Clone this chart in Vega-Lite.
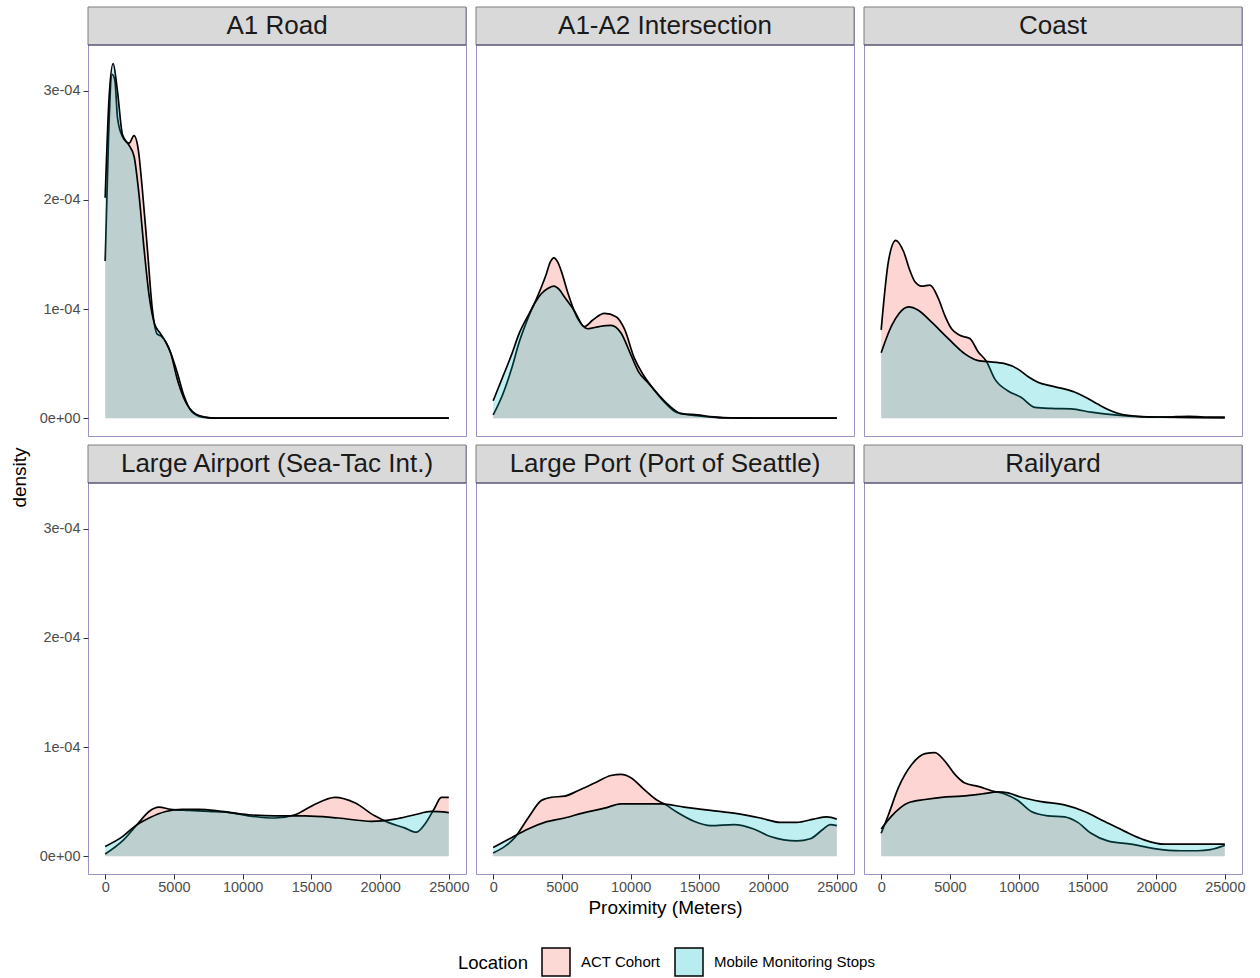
{
  "$schema": "https://vega.github.io/schema/vega-lite/v6.json",
  "background": "white",
  "padding": {"left": 9, "top": 6, "right": 10, "bottom": 0},
  "datasets": {
    "panels": [
      {"panel": "A1 Road"}, {"panel": "A1-A2 Intersection"}, {"panel": "Coast"},
      {"panel": "Large Airport (Sea-Tac Int.)"}, {"panel": "Large Port (Port of Seattle)"}, {"panel": "Railyard"}
    ],
    "curves": [
      {"panel": "A1 Road", "group": "ACT Cohort", "x": 0, "density": 1.44e-4},
      {"panel": "A1 Road", "group": "ACT Cohort", "x": 250, "density": 2.6e-4},
      {"panel": "A1 Road", "group": "ACT Cohort", "x": 500, "density": 3.15e-4},
      {"panel": "A1 Road", "group": "ACT Cohort", "x": 700, "density": 3.1e-4},
      {"panel": "A1 Road", "group": "ACT Cohort", "x": 900, "density": 2.75e-4},
      {"panel": "A1 Road", "group": "ACT Cohort", "x": 1256, "density": 2.58e-4},
      {"panel": "A1 Road", "group": "ACT Cohort", "x": 1740, "density": 2.52e-4},
      {"panel": "A1 Road", "group": "ACT Cohort", "x": 2100, "density": 2.59e-4},
      {"panel": "A1 Road", "group": "ACT Cohort", "x": 2420, "density": 2.45e-4},
      {"panel": "A1 Road", "group": "ACT Cohort", "x": 2700, "density": 2.1e-4},
      {"panel": "A1 Road", "group": "ACT Cohort", "x": 3070, "density": 1.55e-4},
      {"panel": "A1 Road", "group": "ACT Cohort", "x": 3430, "density": 1.0e-4},
      {"panel": "A1 Road", "group": "ACT Cohort", "x": 3790, "density": 0.77e-4},
      {"panel": "A1 Road", "group": "ACT Cohort", "x": 4100, "density": 0.75e-4},
      {"panel": "A1 Road", "group": "ACT Cohort", "x": 4400, "density": 0.7e-4},
      {"panel": "A1 Road", "group": "ACT Cohort", "x": 4760, "density": 0.6e-4},
      {"panel": "A1 Road", "group": "ACT Cohort", "x": 5240, "density": 0.42e-4},
      {"panel": "A1 Road", "group": "ACT Cohort", "x": 5720, "density": 0.21e-4},
      {"panel": "A1 Road", "group": "ACT Cohort", "x": 6330, "density": 0.055e-4},
      {"panel": "A1 Road", "group": "ACT Cohort", "x": 7050, "density": 0.01e-4},
      {"panel": "A1 Road", "group": "ACT Cohort", "x": 8000, "density": 0},
      {"panel": "A1 Road", "group": "ACT Cohort", "x": 12000, "density": 0},
      {"panel": "A1 Road", "group": "ACT Cohort", "x": 16000, "density": 0},
      {"panel": "A1 Road", "group": "ACT Cohort", "x": 20000, "density": 0},
      {"panel": "A1 Road", "group": "ACT Cohort", "x": 25000, "density": 0},

      {"panel": "A1 Road", "group": "Mobile Monitoring Stops", "x": 0, "density": 2.02e-4},
      {"panel": "A1 Road", "group": "Mobile Monitoring Stops", "x": 290, "density": 2.95e-4},
      {"panel": "A1 Road", "group": "Mobile Monitoring Stops", "x": 580, "density": 3.25e-4},
      {"panel": "A1 Road", "group": "Mobile Monitoring Stops", "x": 890, "density": 3.0e-4},
      {"panel": "A1 Road", "group": "Mobile Monitoring Stops", "x": 1256, "density": 2.6e-4},
      {"panel": "A1 Road", "group": "Mobile Monitoring Stops", "x": 1740, "density": 2.5e-4},
      {"panel": "A1 Road", "group": "Mobile Monitoring Stops", "x": 2100, "density": 2.4e-4},
      {"panel": "A1 Road", "group": "Mobile Monitoring Stops", "x": 2460, "density": 2.05e-4},
      {"panel": "A1 Road", "group": "Mobile Monitoring Stops", "x": 2830, "density": 1.55e-4},
      {"panel": "A1 Road", "group": "Mobile Monitoring Stops", "x": 3200, "density": 1.12e-4},
      {"panel": "A1 Road", "group": "Mobile Monitoring Stops", "x": 3600, "density": 0.86e-4},
      {"panel": "A1 Road", "group": "Mobile Monitoring Stops", "x": 4000, "density": 0.78e-4},
      {"panel": "A1 Road", "group": "Mobile Monitoring Stops", "x": 4400, "density": 0.7e-4},
      {"panel": "A1 Road", "group": "Mobile Monitoring Stops", "x": 4760, "density": 0.6e-4},
      {"panel": "A1 Road", "group": "Mobile Monitoring Stops", "x": 5240, "density": 0.36e-4},
      {"panel": "A1 Road", "group": "Mobile Monitoring Stops", "x": 5850, "density": 0.15e-4},
      {"panel": "A1 Road", "group": "Mobile Monitoring Stops", "x": 6570, "density": 0.04e-4},
      {"panel": "A1 Road", "group": "Mobile Monitoring Stops", "x": 7300, "density": 0.01e-4},
      {"panel": "A1 Road", "group": "Mobile Monitoring Stops", "x": 8000, "density": 0},
      {"panel": "A1 Road", "group": "Mobile Monitoring Stops", "x": 12000, "density": 0},
      {"panel": "A1 Road", "group": "Mobile Monitoring Stops", "x": 16000, "density": 0},
      {"panel": "A1 Road", "group": "Mobile Monitoring Stops", "x": 20000, "density": 0},
      {"panel": "A1 Road", "group": "Mobile Monitoring Stops", "x": 25000, "density": 0},

      {"panel": "A1-A2 Intersection", "group": "ACT Cohort", "x": 0, "density": 0.03e-4},
      {"panel": "A1-A2 Intersection", "group": "ACT Cohort", "x": 700, "density": 0.22e-4},
      {"panel": "A1-A2 Intersection", "group": "ACT Cohort", "x": 1330, "density": 0.45e-4},
      {"panel": "A1-A2 Intersection", "group": "ACT Cohort", "x": 1900, "density": 0.7e-4},
      {"panel": "A1-A2 Intersection", "group": "ACT Cohort", "x": 2540, "density": 0.92e-4},
      {"panel": "A1-A2 Intersection", "group": "ACT Cohort", "x": 3100, "density": 1.08e-4},
      {"panel": "A1-A2 Intersection", "group": "ACT Cohort", "x": 3500, "density": 1.2e-4},
      {"panel": "A1-A2 Intersection", "group": "ACT Cohort", "x": 3860, "density": 1.32e-4},
      {"panel": "A1-A2 Intersection", "group": "ACT Cohort", "x": 4150, "density": 1.43e-4},
      {"panel": "A1-A2 Intersection", "group": "ACT Cohort", "x": 4420, "density": 1.47e-4},
      {"panel": "A1-A2 Intersection", "group": "ACT Cohort", "x": 4700, "density": 1.43e-4},
      {"panel": "A1-A2 Intersection", "group": "ACT Cohort", "x": 4950, "density": 1.35e-4},
      {"panel": "A1-A2 Intersection", "group": "ACT Cohort", "x": 5430, "density": 1.15e-4},
      {"panel": "A1-A2 Intersection", "group": "ACT Cohort", "x": 6160, "density": 0.91e-4},
      {"panel": "A1-A2 Intersection", "group": "ACT Cohort", "x": 6640, "density": 0.84e-4},
      {"panel": "A1-A2 Intersection", "group": "ACT Cohort", "x": 7250, "density": 0.9e-4},
      {"panel": "A1-A2 Intersection", "group": "ACT Cohort", "x": 8090, "density": 0.96e-4},
      {"panel": "A1-A2 Intersection", "group": "ACT Cohort", "x": 8940, "density": 0.93e-4},
      {"panel": "A1-A2 Intersection", "group": "ACT Cohort", "x": 9540, "density": 0.82e-4},
      {"panel": "A1-A2 Intersection", "group": "ACT Cohort", "x": 10270, "density": 0.55e-4},
      {"panel": "A1-A2 Intersection", "group": "ACT Cohort", "x": 10900, "density": 0.4e-4},
      {"panel": "A1-A2 Intersection", "group": "ACT Cohort", "x": 11470, "density": 0.3e-4},
      {"panel": "A1-A2 Intersection", "group": "ACT Cohort", "x": 12440, "density": 0.15e-4},
      {"panel": "A1-A2 Intersection", "group": "ACT Cohort", "x": 13400, "density": 0.05e-4},
      {"panel": "A1-A2 Intersection", "group": "ACT Cohort", "x": 14600, "density": 0.025e-4},
      {"panel": "A1-A2 Intersection", "group": "ACT Cohort", "x": 15800, "density": 0.01e-4},
      {"panel": "A1-A2 Intersection", "group": "ACT Cohort", "x": 17000, "density": 0.002e-4},
      {"panel": "A1-A2 Intersection", "group": "ACT Cohort", "x": 20000, "density": 0},
      {"panel": "A1-A2 Intersection", "group": "ACT Cohort", "x": 25000, "density": 0},

      {"panel": "A1-A2 Intersection", "group": "Mobile Monitoring Stops", "x": 0, "density": 0.16e-4},
      {"panel": "A1-A2 Intersection", "group": "Mobile Monitoring Stops", "x": 700, "density": 0.38e-4},
      {"panel": "A1-A2 Intersection", "group": "Mobile Monitoring Stops", "x": 1330, "density": 0.58e-4},
      {"panel": "A1-A2 Intersection", "group": "Mobile Monitoring Stops", "x": 1900, "density": 0.78e-4},
      {"panel": "A1-A2 Intersection", "group": "Mobile Monitoring Stops", "x": 2540, "density": 0.94e-4},
      {"panel": "A1-A2 Intersection", "group": "Mobile Monitoring Stops", "x": 3100, "density": 1.07e-4},
      {"panel": "A1-A2 Intersection", "group": "Mobile Monitoring Stops", "x": 3500, "density": 1.14e-4},
      {"panel": "A1-A2 Intersection", "group": "Mobile Monitoring Stops", "x": 4000, "density": 1.19e-4},
      {"panel": "A1-A2 Intersection", "group": "Mobile Monitoring Stops", "x": 4420, "density": 1.21e-4},
      {"panel": "A1-A2 Intersection", "group": "Mobile Monitoring Stops", "x": 4800, "density": 1.18e-4},
      {"panel": "A1-A2 Intersection", "group": "Mobile Monitoring Stops", "x": 5190, "density": 1.11e-4},
      {"panel": "A1-A2 Intersection", "group": "Mobile Monitoring Stops", "x": 5920, "density": 0.98e-4},
      {"panel": "A1-A2 Intersection", "group": "Mobile Monitoring Stops", "x": 6500, "density": 0.85e-4},
      {"panel": "A1-A2 Intersection", "group": "Mobile Monitoring Stops", "x": 6880, "density": 0.82e-4},
      {"panel": "A1-A2 Intersection", "group": "Mobile Monitoring Stops", "x": 7730, "density": 0.84e-4},
      {"panel": "A1-A2 Intersection", "group": "Mobile Monitoring Stops", "x": 8570, "density": 0.85e-4},
      {"panel": "A1-A2 Intersection", "group": "Mobile Monitoring Stops", "x": 9300, "density": 0.78e-4},
      {"panel": "A1-A2 Intersection", "group": "Mobile Monitoring Stops", "x": 10020, "density": 0.58e-4},
      {"panel": "A1-A2 Intersection", "group": "Mobile Monitoring Stops", "x": 10600, "density": 0.42e-4},
      {"panel": "A1-A2 Intersection", "group": "Mobile Monitoring Stops", "x": 11230, "density": 0.33e-4},
      {"panel": "A1-A2 Intersection", "group": "Mobile Monitoring Stops", "x": 12440, "density": 0.16e-4},
      {"panel": "A1-A2 Intersection", "group": "Mobile Monitoring Stops", "x": 13650, "density": 0.045e-4},
      {"panel": "A1-A2 Intersection", "group": "Mobile Monitoring Stops", "x": 14850, "density": 0.03e-4},
      {"panel": "A1-A2 Intersection", "group": "Mobile Monitoring Stops", "x": 16060, "density": 0.012e-4},
      {"panel": "A1-A2 Intersection", "group": "Mobile Monitoring Stops", "x": 17270, "density": 0.003e-4},
      {"panel": "A1-A2 Intersection", "group": "Mobile Monitoring Stops", "x": 20000, "density": 0},
      {"panel": "A1-A2 Intersection", "group": "Mobile Monitoring Stops", "x": 25000, "density": 0},

      {"panel": "Coast", "group": "ACT Cohort", "x": 0, "density": 0.81e-4},
      {"panel": "Coast", "group": "ACT Cohort", "x": 530, "density": 1.44e-4},
      {"panel": "Coast", "group": "ACT Cohort", "x": 1060, "density": 1.63e-4},
      {"panel": "Coast", "group": "ACT Cohort", "x": 1620, "density": 1.53e-4},
      {"panel": "Coast", "group": "ACT Cohort", "x": 2100, "density": 1.35e-4},
      {"panel": "Coast", "group": "ACT Cohort", "x": 2460, "density": 1.25e-4},
      {"panel": "Coast", "group": "ACT Cohort", "x": 2950, "density": 1.21e-4},
      {"panel": "Coast", "group": "ACT Cohort", "x": 3550, "density": 1.22e-4},
      {"panel": "Coast", "group": "ACT Cohort", "x": 4150, "density": 1.1e-4},
      {"panel": "Coast", "group": "ACT Cohort", "x": 4600, "density": 0.95e-4},
      {"panel": "Coast", "group": "ACT Cohort", "x": 5120, "density": 0.82e-4},
      {"panel": "Coast", "group": "ACT Cohort", "x": 5720, "density": 0.76e-4},
      {"panel": "Coast", "group": "ACT Cohort", "x": 6450, "density": 0.73e-4},
      {"panel": "Coast", "group": "ACT Cohort", "x": 7050, "density": 0.61e-4},
      {"panel": "Coast", "group": "ACT Cohort", "x": 7660, "density": 0.52e-4},
      {"panel": "Coast", "group": "ACT Cohort", "x": 8260, "density": 0.36e-4},
      {"panel": "Coast", "group": "ACT Cohort", "x": 9230, "density": 0.25e-4},
      {"panel": "Coast", "group": "ACT Cohort", "x": 10200, "density": 0.19e-4},
      {"panel": "Coast", "group": "ACT Cohort", "x": 11170, "density": 0.1e-4},
      {"panel": "Coast", "group": "ACT Cohort", "x": 12370, "density": 0.09e-4},
      {"panel": "Coast", "group": "ACT Cohort", "x": 13820, "density": 0.086e-4},
      {"panel": "Coast", "group": "ACT Cohort", "x": 15270, "density": 0.055e-4},
      {"panel": "Coast", "group": "ACT Cohort", "x": 16960, "density": 0.03e-4},
      {"panel": "Coast", "group": "ACT Cohort", "x": 18650, "density": 0.015e-4},
      {"panel": "Coast", "group": "ACT Cohort", "x": 20580, "density": 0.01e-4},
      {"panel": "Coast", "group": "ACT Cohort", "x": 22390, "density": 0.018e-4},
      {"panel": "Coast", "group": "ACT Cohort", "x": 23500, "density": 0.01e-4},
      {"panel": "Coast", "group": "ACT Cohort", "x": 25000, "density": 0.01e-4},

      {"panel": "Coast", "group": "Mobile Monitoring Stops", "x": 0, "density": 0.6e-4},
      {"panel": "Coast", "group": "Mobile Monitoring Stops", "x": 400, "density": 0.74e-4},
      {"panel": "Coast", "group": "Mobile Monitoring Stops", "x": 770, "density": 0.85e-4},
      {"panel": "Coast", "group": "Mobile Monitoring Stops", "x": 1300, "density": 0.96e-4},
      {"panel": "Coast", "group": "Mobile Monitoring Stops", "x": 1980, "density": 1.02e-4},
      {"panel": "Coast", "group": "Mobile Monitoring Stops", "x": 2700, "density": 0.99e-4},
      {"panel": "Coast", "group": "Mobile Monitoring Stops", "x": 3670, "density": 0.88e-4},
      {"panel": "Coast", "group": "Mobile Monitoring Stops", "x": 4880, "density": 0.73e-4},
      {"panel": "Coast", "group": "Mobile Monitoring Stops", "x": 6090, "density": 0.59e-4},
      {"panel": "Coast", "group": "Mobile Monitoring Stops", "x": 7000, "density": 0.53e-4},
      {"panel": "Coast", "group": "Mobile Monitoring Stops", "x": 7540, "density": 0.52e-4},
      {"panel": "Coast", "group": "Mobile Monitoring Stops", "x": 8990, "density": 0.5e-4},
      {"panel": "Coast", "group": "Mobile Monitoring Stops", "x": 9950, "density": 0.45e-4},
      {"panel": "Coast", "group": "Mobile Monitoring Stops", "x": 10700, "density": 0.38e-4},
      {"panel": "Coast", "group": "Mobile Monitoring Stops", "x": 11400, "density": 0.33e-4},
      {"panel": "Coast", "group": "Mobile Monitoring Stops", "x": 12600, "density": 0.29e-4},
      {"panel": "Coast", "group": "Mobile Monitoring Stops", "x": 14060, "density": 0.24e-4},
      {"panel": "Coast", "group": "Mobile Monitoring Stops", "x": 14900, "density": 0.19e-4},
      {"panel": "Coast", "group": "Mobile Monitoring Stops", "x": 15750, "density": 0.13e-4},
      {"panel": "Coast", "group": "Mobile Monitoring Stops", "x": 16500, "density": 0.08e-4},
      {"panel": "Coast", "group": "Mobile Monitoring Stops", "x": 17200, "density": 0.045e-4},
      {"panel": "Coast", "group": "Mobile Monitoring Stops", "x": 18890, "density": 0.015e-4},
      {"panel": "Coast", "group": "Mobile Monitoring Stops", "x": 20580, "density": 0.01e-4},
      {"panel": "Coast", "group": "Mobile Monitoring Stops", "x": 22800, "density": 0.005e-4},
      {"panel": "Coast", "group": "Mobile Monitoring Stops", "x": 25000, "density": 0.003e-4},

      {"panel": "Large Airport (Sea-Tac Int.)", "group": "ACT Cohort", "x": 0, "density": 0.02e-4},
      {"panel": "Large Airport (Sea-Tac Int.)", "group": "ACT Cohort", "x": 1260, "density": 0.14e-4},
      {"panel": "Large Airport (Sea-Tac Int.)", "group": "ACT Cohort", "x": 2460, "density": 0.31e-4},
      {"panel": "Large Airport (Sea-Tac Int.)", "group": "ACT Cohort", "x": 3190, "density": 0.41e-4},
      {"panel": "Large Airport (Sea-Tac Int.)", "group": "ACT Cohort", "x": 3910, "density": 0.45e-4},
      {"panel": "Large Airport (Sea-Tac Int.)", "group": "ACT Cohort", "x": 4760, "density": 0.43e-4},
      {"panel": "Large Airport (Sea-Tac Int.)", "group": "ACT Cohort", "x": 6090, "density": 0.42e-4},
      {"panel": "Large Airport (Sea-Tac Int.)", "group": "ACT Cohort", "x": 7540, "density": 0.41e-4},
      {"panel": "Large Airport (Sea-Tac Int.)", "group": "ACT Cohort", "x": 8990, "density": 0.4e-4},
      {"panel": "Large Airport (Sea-Tac Int.)", "group": "ACT Cohort", "x": 10430, "density": 0.37e-4},
      {"panel": "Large Airport (Sea-Tac Int.)", "group": "ACT Cohort", "x": 12370, "density": 0.35e-4},
      {"panel": "Large Airport (Sea-Tac Int.)", "group": "ACT Cohort", "x": 13820, "density": 0.38e-4},
      {"panel": "Large Airport (Sea-Tac Int.)", "group": "ACT Cohort", "x": 15030, "density": 0.46e-4},
      {"panel": "Large Airport (Sea-Tac Int.)", "group": "ACT Cohort", "x": 16720, "density": 0.54e-4},
      {"panel": "Large Airport (Sea-Tac Int.)", "group": "ACT Cohort", "x": 18160, "density": 0.49e-4},
      {"panel": "Large Airport (Sea-Tac Int.)", "group": "ACT Cohort", "x": 19610, "density": 0.37e-4},
      {"panel": "Large Airport (Sea-Tac Int.)", "group": "ACT Cohort", "x": 20580, "density": 0.31e-4},
      {"panel": "Large Airport (Sea-Tac Int.)", "group": "ACT Cohort", "x": 21780, "density": 0.26e-4},
      {"panel": "Large Airport (Sea-Tac Int.)", "group": "ACT Cohort", "x": 22630, "density": 0.22e-4},
      {"panel": "Large Airport (Sea-Tac Int.)", "group": "ACT Cohort", "x": 23240, "density": 0.29e-4},
      {"panel": "Large Airport (Sea-Tac Int.)", "group": "ACT Cohort", "x": 23960, "density": 0.44e-4},
      {"panel": "Large Airport (Sea-Tac Int.)", "group": "ACT Cohort", "x": 24450, "density": 0.54e-4},
      {"panel": "Large Airport (Sea-Tac Int.)", "group": "ACT Cohort", "x": 25000, "density": 0.54e-4},

      {"panel": "Large Airport (Sea-Tac Int.)", "group": "Mobile Monitoring Stops", "x": 0, "density": 0.09e-4},
      {"panel": "Large Airport (Sea-Tac Int.)", "group": "Mobile Monitoring Stops", "x": 1260, "density": 0.18e-4},
      {"panel": "Large Airport (Sea-Tac Int.)", "group": "Mobile Monitoring Stops", "x": 2220, "density": 0.28e-4},
      {"panel": "Large Airport (Sea-Tac Int.)", "group": "Mobile Monitoring Stops", "x": 3190, "density": 0.35e-4},
      {"panel": "Large Airport (Sea-Tac Int.)", "group": "Mobile Monitoring Stops", "x": 4400, "density": 0.41e-4},
      {"panel": "Large Airport (Sea-Tac Int.)", "group": "Mobile Monitoring Stops", "x": 5600, "density": 0.43e-4},
      {"panel": "Large Airport (Sea-Tac Int.)", "group": "Mobile Monitoring Stops", "x": 6810, "density": 0.43e-4},
      {"panel": "Large Airport (Sea-Tac Int.)", "group": "Mobile Monitoring Stops", "x": 8500, "density": 0.41e-4},
      {"panel": "Large Airport (Sea-Tac Int.)", "group": "Mobile Monitoring Stops", "x": 10430, "density": 0.38e-4},
      {"panel": "Large Airport (Sea-Tac Int.)", "group": "Mobile Monitoring Stops", "x": 12370, "density": 0.37e-4},
      {"panel": "Large Airport (Sea-Tac Int.)", "group": "Mobile Monitoring Stops", "x": 14540, "density": 0.37e-4},
      {"panel": "Large Airport (Sea-Tac Int.)", "group": "Mobile Monitoring Stops", "x": 16960, "density": 0.35e-4},
      {"panel": "Large Airport (Sea-Tac Int.)", "group": "Mobile Monitoring Stops", "x": 19380, "density": 0.32e-4},
      {"panel": "Large Airport (Sea-Tac Int.)", "group": "Mobile Monitoring Stops", "x": 21070, "density": 0.34e-4},
      {"panel": "Large Airport (Sea-Tac Int.)", "group": "Mobile Monitoring Stops", "x": 22520, "density": 0.38e-4},
      {"panel": "Large Airport (Sea-Tac Int.)", "group": "Mobile Monitoring Stops", "x": 23720, "density": 0.41e-4},
      {"panel": "Large Airport (Sea-Tac Int.)", "group": "Mobile Monitoring Stops", "x": 25000, "density": 0.4e-4},

      {"panel": "Large Port (Port of Seattle)", "group": "ACT Cohort", "x": 0, "density": 0.03e-4},
      {"panel": "Large Port (Port of Seattle)", "group": "ACT Cohort", "x": 850, "density": 0.09e-4},
      {"panel": "Large Port (Port of Seattle)", "group": "ACT Cohort", "x": 1570, "density": 0.17e-4},
      {"panel": "Large Port (Port of Seattle)", "group": "ACT Cohort", "x": 2540, "density": 0.35e-4},
      {"panel": "Large Port (Port of Seattle)", "group": "ACT Cohort", "x": 3500, "density": 0.51e-4},
      {"panel": "Large Port (Port of Seattle)", "group": "ACT Cohort", "x": 4230, "density": 0.54e-4},
      {"panel": "Large Port (Port of Seattle)", "group": "ACT Cohort", "x": 5190, "density": 0.55e-4},
      {"panel": "Large Port (Port of Seattle)", "group": "ACT Cohort", "x": 6160, "density": 0.6e-4},
      {"panel": "Large Port (Port of Seattle)", "group": "ACT Cohort", "x": 7370, "density": 0.67e-4},
      {"panel": "Large Port (Port of Seattle)", "group": "ACT Cohort", "x": 8570, "density": 0.74e-4},
      {"panel": "Large Port (Port of Seattle)", "group": "ACT Cohort", "x": 9300, "density": 0.75e-4},
      {"panel": "Large Port (Port of Seattle)", "group": "ACT Cohort", "x": 10020, "density": 0.72e-4},
      {"panel": "Large Port (Port of Seattle)", "group": "ACT Cohort", "x": 10990, "density": 0.61e-4},
      {"panel": "Large Port (Port of Seattle)", "group": "ACT Cohort", "x": 11960, "density": 0.51e-4},
      {"panel": "Large Port (Port of Seattle)", "group": "ACT Cohort", "x": 12440, "density": 0.48e-4},
      {"panel": "Large Port (Port of Seattle)", "group": "ACT Cohort", "x": 13410, "density": 0.4e-4},
      {"panel": "Large Port (Port of Seattle)", "group": "ACT Cohort", "x": 14610, "density": 0.32e-4},
      {"panel": "Large Port (Port of Seattle)", "group": "ACT Cohort", "x": 15820, "density": 0.28e-4},
      {"panel": "Large Port (Port of Seattle)", "group": "ACT Cohort", "x": 17510, "density": 0.29e-4},
      {"panel": "Large Port (Port of Seattle)", "group": "ACT Cohort", "x": 18960, "density": 0.25e-4},
      {"panel": "Large Port (Port of Seattle)", "group": "ACT Cohort", "x": 20170, "density": 0.18e-4},
      {"panel": "Large Port (Port of Seattle)", "group": "ACT Cohort", "x": 21140, "density": 0.15e-4},
      {"panel": "Large Port (Port of Seattle)", "group": "ACT Cohort", "x": 22100, "density": 0.14e-4},
      {"panel": "Large Port (Port of Seattle)", "group": "ACT Cohort", "x": 23070, "density": 0.16e-4},
      {"panel": "Large Port (Port of Seattle)", "group": "ACT Cohort", "x": 24030, "density": 0.25e-4},
      {"panel": "Large Port (Port of Seattle)", "group": "ACT Cohort", "x": 24520, "density": 0.29e-4},
      {"panel": "Large Port (Port of Seattle)", "group": "ACT Cohort", "x": 25000, "density": 0.28e-4},

      {"panel": "Large Port (Port of Seattle)", "group": "Mobile Monitoring Stops", "x": 0, "density": 0.08e-4},
      {"panel": "Large Port (Port of Seattle)", "group": "Mobile Monitoring Stops", "x": 1330, "density": 0.17e-4},
      {"panel": "Large Port (Port of Seattle)", "group": "Mobile Monitoring Stops", "x": 2540, "density": 0.25e-4},
      {"panel": "Large Port (Port of Seattle)", "group": "Mobile Monitoring Stops", "x": 3740, "density": 0.31e-4},
      {"panel": "Large Port (Port of Seattle)", "group": "Mobile Monitoring Stops", "x": 5190, "density": 0.35e-4},
      {"panel": "Large Port (Port of Seattle)", "group": "Mobile Monitoring Stops", "x": 6640, "density": 0.4e-4},
      {"panel": "Large Port (Port of Seattle)", "group": "Mobile Monitoring Stops", "x": 8090, "density": 0.44e-4},
      {"panel": "Large Port (Port of Seattle)", "group": "Mobile Monitoring Stops", "x": 9300, "density": 0.48e-4},
      {"panel": "Large Port (Port of Seattle)", "group": "Mobile Monitoring Stops", "x": 10510, "density": 0.48e-4},
      {"panel": "Large Port (Port of Seattle)", "group": "Mobile Monitoring Stops", "x": 12200, "density": 0.48e-4},
      {"panel": "Large Port (Port of Seattle)", "group": "Mobile Monitoring Stops", "x": 13890, "density": 0.45e-4},
      {"panel": "Large Port (Port of Seattle)", "group": "Mobile Monitoring Stops", "x": 15820, "density": 0.42e-4},
      {"panel": "Large Port (Port of Seattle)", "group": "Mobile Monitoring Stops", "x": 17750, "density": 0.39e-4},
      {"panel": "Large Port (Port of Seattle)", "group": "Mobile Monitoring Stops", "x": 19440, "density": 0.35e-4},
      {"panel": "Large Port (Port of Seattle)", "group": "Mobile Monitoring Stops", "x": 20890, "density": 0.31e-4},
      {"panel": "Large Port (Port of Seattle)", "group": "Mobile Monitoring Stops", "x": 22100, "density": 0.31e-4},
      {"panel": "Large Port (Port of Seattle)", "group": "Mobile Monitoring Stops", "x": 23310, "density": 0.34e-4},
      {"panel": "Large Port (Port of Seattle)", "group": "Mobile Monitoring Stops", "x": 24280, "density": 0.36e-4},
      {"panel": "Large Port (Port of Seattle)", "group": "Mobile Monitoring Stops", "x": 25000, "density": 0.34e-4},

      {"panel": "Railyard", "group": "ACT Cohort", "x": 0, "density": 0.21e-4},
      {"panel": "Railyard", "group": "ACT Cohort", "x": 530, "density": 0.38e-4},
      {"panel": "Railyard", "group": "ACT Cohort", "x": 1260, "density": 0.63e-4},
      {"panel": "Railyard", "group": "ACT Cohort", "x": 2220, "density": 0.84e-4},
      {"panel": "Railyard", "group": "ACT Cohort", "x": 3190, "density": 0.94e-4},
      {"panel": "Railyard", "group": "ACT Cohort", "x": 3910, "density": 0.95e-4},
      {"panel": "Railyard", "group": "ACT Cohort", "x": 4640, "density": 0.87e-4},
      {"panel": "Railyard", "group": "ACT Cohort", "x": 5360, "density": 0.75e-4},
      {"panel": "Railyard", "group": "ACT Cohort", "x": 6090, "density": 0.67e-4},
      {"panel": "Railyard", "group": "ACT Cohort", "x": 7050, "density": 0.64e-4},
      {"panel": "Railyard", "group": "ACT Cohort", "x": 8020, "density": 0.6e-4},
      {"panel": "Railyard", "group": "ACT Cohort", "x": 8990, "density": 0.57e-4},
      {"panel": "Railyard", "group": "ACT Cohort", "x": 9950, "density": 0.51e-4},
      {"panel": "Railyard", "group": "ACT Cohort", "x": 10920, "density": 0.41e-4},
      {"panel": "Railyard", "group": "ACT Cohort", "x": 12130, "density": 0.37e-4},
      {"panel": "Railyard", "group": "ACT Cohort", "x": 13330, "density": 0.36e-4},
      {"panel": "Railyard", "group": "ACT Cohort", "x": 14300, "density": 0.31e-4},
      {"panel": "Railyard", "group": "ACT Cohort", "x": 15270, "density": 0.21e-4},
      {"panel": "Railyard", "group": "ACT Cohort", "x": 16480, "density": 0.14e-4},
      {"panel": "Railyard", "group": "ACT Cohort", "x": 18170, "density": 0.11e-4},
      {"panel": "Railyard", "group": "ACT Cohort", "x": 19860, "density": 0.07e-4},
      {"panel": "Railyard", "group": "ACT Cohort", "x": 21790, "density": 0.05e-4},
      {"panel": "Railyard", "group": "ACT Cohort", "x": 23000, "density": 0.05e-4},
      {"panel": "Railyard", "group": "ACT Cohort", "x": 23960, "density": 0.06e-4},
      {"panel": "Railyard", "group": "ACT Cohort", "x": 25000, "density": 0.1e-4},

      {"panel": "Railyard", "group": "Mobile Monitoring Stops", "x": 0, "density": 0.25e-4},
      {"panel": "Railyard", "group": "Mobile Monitoring Stops", "x": 770, "density": 0.37e-4},
      {"panel": "Railyard", "group": "Mobile Monitoring Stops", "x": 1980, "density": 0.49e-4},
      {"panel": "Railyard", "group": "Mobile Monitoring Stops", "x": 3190, "density": 0.52e-4},
      {"panel": "Railyard", "group": "Mobile Monitoring Stops", "x": 4400, "density": 0.54e-4},
      {"panel": "Railyard", "group": "Mobile Monitoring Stops", "x": 5850, "density": 0.55e-4},
      {"panel": "Railyard", "group": "Mobile Monitoring Stops", "x": 7300, "density": 0.57e-4},
      {"panel": "Railyard", "group": "Mobile Monitoring Stops", "x": 8500, "density": 0.59e-4},
      {"panel": "Railyard", "group": "Mobile Monitoring Stops", "x": 9230, "density": 0.58e-4},
      {"panel": "Railyard", "group": "Mobile Monitoring Stops", "x": 10190, "density": 0.54e-4},
      {"panel": "Railyard", "group": "Mobile Monitoring Stops", "x": 11640, "density": 0.5e-4},
      {"panel": "Railyard", "group": "Mobile Monitoring Stops", "x": 13330, "density": 0.47e-4},
      {"panel": "Railyard", "group": "Mobile Monitoring Stops", "x": 14780, "density": 0.41e-4},
      {"panel": "Railyard", "group": "Mobile Monitoring Stops", "x": 16230, "density": 0.32e-4},
      {"panel": "Railyard", "group": "Mobile Monitoring Stops", "x": 17680, "density": 0.23e-4},
      {"panel": "Railyard", "group": "Mobile Monitoring Stops", "x": 19130, "density": 0.15e-4},
      {"panel": "Railyard", "group": "Mobile Monitoring Stops", "x": 20580, "density": 0.11e-4},
      {"panel": "Railyard", "group": "Mobile Monitoring Stops", "x": 22030, "density": 0.11e-4},
      {"panel": "Railyard", "group": "Mobile Monitoring Stops", "x": 23720, "density": 0.11e-4},
      {"panel": "Railyard", "group": "Mobile Monitoring Stops", "x": 25000, "density": 0.11e-4}
    ]
  },
  "columns": 3,
  "spacing": {"row": 9, "column": 10},
  "bounds": "flush",
  "resolve": {"scale": {"color": "shared"}, "legend": {"color": "shared"}},
  "concat": [
    {
      "width": 378, "height": 429, "view": {"fill": "white", "stroke": "#9d90c2"},
      "resolve": {"axis": {"x": "independent", "y": "independent"}},
      "layer": [
        {"data": {"name": "panels"}, "transform": [{"filter": "datum.panel === 'A1 Road'"}], "mark": {"type": "rect", "fill": "#d9d9d9", "stroke": "#7f7f7f", "strokeWidth": 1}, "encoding": {"x": {"datum": -1250, "axis": null}, "x2": {"datum": 26250}, "y": {"datum": 0.000342, "axis": null}, "y2": {"datum": 0.00037682}}},
        {"data": {"name": "panels"}, "transform": [{"filter": "datum.panel === 'A1 Road'"}], "mark": {"type": "rule", "color": "#4b3f75", "strokeWidth": 1.2}, "encoding": {"x": {"datum": -1250, "axis": null}, "x2": {"datum": 26250}, "y": {"datum": 0.000342, "axis": null}}},
        {"data": {"name": "panels"}, "transform": [{"filter": "datum.panel === 'A1 Road'"}], "mark": {"type": "text", "font": "Liberation Sans", "fontSize": 26, "color": "#1a1a1a", "align": "center", "baseline": "middle"}, "encoding": {"x": {"datum": 12500, "axis": null}, "y": {"datum": 0.0003591, "axis": null}, "text": {"field": "panel", "type": "nominal"}}},
        {
          "data": {"name": "curves"}, "transform": [{"filter": "datum.panel === 'A1 Road'"}],
          "encoding": {
            "x": {"field": "x", "type": "quantitative", "scale": {"domain": [-1250, 26250], "nice": false, "zero": false}, "axis": null},
            "y": {"field": "density", "type": "quantitative", "scale": {"domain": [-0.0000163, 0.00037682], "nice": false, "zero": false}, "axis": {"orient": "left", "title": null, "labelPadding": 3, "values": [0, 0.0001, 0.0002, 0.0003], "labelExpr": "replace(replace(format(datum.value, '.0e'), 'e-', 'e-0'), 'e+', 'e+0')"}}
          },
          "layer": [
            {"transform": [{"filter": "datum.group === 'ACT Cohort'"}], "mark": {"type": "area", "interpolate": "monotone", "fillOpacity": 0.3}, "encoding": {"y2": {"datum": 0}, "color": {"field": "group", "type": "nominal", "scale": {"domain": ["ACT Cohort", "Mobile Monitoring Stops"], "range": ["#F8766D", "#00BFC4"]}, "legend": {"title": "Location", "encode": {"symbols": {"update": {"fillOpacity": {"value": 0.28}, "strokeOpacity": {"value": 1}}}}}}}},
            {"transform": [{"filter": "datum.group === 'ACT Cohort'"}], "mark": {"type": "line", "interpolate": "monotone", "color": "black", "strokeWidth": 1.7}, "encoding": {}},
            {"transform": [{"filter": "datum.group === 'Mobile Monitoring Stops'"}], "mark": {"type": "area", "interpolate": "monotone", "fillOpacity": 0.25}, "encoding": {"y2": {"datum": 0}, "color": {"field": "group", "type": "nominal", "scale": {"domain": ["ACT Cohort", "Mobile Monitoring Stops"], "range": ["#F8766D", "#00BFC4"]}, "legend": {"title": "Location", "encode": {"symbols": {"update": {"fillOpacity": {"value": 0.28}, "strokeOpacity": {"value": 1}}}}}}}},
            {"transform": [{"filter": "datum.group === 'Mobile Monitoring Stops'"}], "mark": {"type": "line", "interpolate": "monotone", "color": "black", "strokeWidth": 1.7}, "encoding": {}}
          ]
        }
      ]
    },
    {
      "width": 378, "height": 429, "view": {"fill": "white", "stroke": "#9d90c2"},
      "resolve": {"axis": {"x": "independent", "y": "independent"}},
      "layer": [
        {"data": {"name": "panels"}, "transform": [{"filter": "datum.panel === 'A1-A2 Intersection'"}], "mark": {"type": "rect", "fill": "#d9d9d9", "stroke": "#7f7f7f", "strokeWidth": 1}, "encoding": {"x": {"datum": -1250, "axis": null}, "x2": {"datum": 26250}, "y": {"datum": 0.000342, "axis": null}, "y2": {"datum": 0.00037682}}},
        {"data": {"name": "panels"}, "transform": [{"filter": "datum.panel === 'A1-A2 Intersection'"}], "mark": {"type": "rule", "color": "#4b3f75", "strokeWidth": 1.2}, "encoding": {"x": {"datum": -1250, "axis": null}, "x2": {"datum": 26250}, "y": {"datum": 0.000342, "axis": null}}},
        {"data": {"name": "panels"}, "transform": [{"filter": "datum.panel === 'A1-A2 Intersection'"}], "mark": {"type": "text", "font": "Liberation Sans", "fontSize": 26, "color": "#1a1a1a", "align": "center", "baseline": "middle"}, "encoding": {"x": {"datum": 12500, "axis": null}, "y": {"datum": 0.0003591, "axis": null}, "text": {"field": "panel", "type": "nominal"}}},
        {
          "data": {"name": "curves"}, "transform": [{"filter": "datum.panel === 'A1-A2 Intersection'"}],
          "encoding": {
            "x": {"field": "x", "type": "quantitative", "scale": {"domain": [-1250, 26250], "nice": false, "zero": false}, "axis": null},
            "y": {"field": "density", "type": "quantitative", "scale": {"domain": [-0.0000163, 0.00037682], "nice": false, "zero": false}, "axis": null}
          },
          "layer": [
            {"transform": [{"filter": "datum.group === 'ACT Cohort'"}], "mark": {"type": "area", "interpolate": "monotone", "fillOpacity": 0.3}, "encoding": {"y2": {"datum": 0}, "color": {"field": "group", "type": "nominal", "scale": {"domain": ["ACT Cohort", "Mobile Monitoring Stops"], "range": ["#F8766D", "#00BFC4"]}, "legend": {"title": "Location", "encode": {"symbols": {"update": {"fillOpacity": {"value": 0.28}, "strokeOpacity": {"value": 1}}}}}}}},
            {"transform": [{"filter": "datum.group === 'ACT Cohort'"}], "mark": {"type": "line", "interpolate": "monotone", "color": "black", "strokeWidth": 1.7}, "encoding": {}},
            {"transform": [{"filter": "datum.group === 'Mobile Monitoring Stops'"}], "mark": {"type": "area", "interpolate": "monotone", "fillOpacity": 0.25}, "encoding": {"y2": {"datum": 0}, "color": {"field": "group", "type": "nominal", "scale": {"domain": ["ACT Cohort", "Mobile Monitoring Stops"], "range": ["#F8766D", "#00BFC4"]}, "legend": {"title": "Location", "encode": {"symbols": {"update": {"fillOpacity": {"value": 0.28}, "strokeOpacity": {"value": 1}}}}}}}},
            {"transform": [{"filter": "datum.group === 'Mobile Monitoring Stops'"}], "mark": {"type": "line", "interpolate": "monotone", "color": "black", "strokeWidth": 1.7}, "encoding": {}}
          ]
        }
      ]
    },
    {
      "width": 378, "height": 429, "view": {"fill": "white", "stroke": "#9d90c2"},
      "resolve": {"axis": {"x": "independent", "y": "independent"}},
      "layer": [
        {"data": {"name": "panels"}, "transform": [{"filter": "datum.panel === 'Coast'"}], "mark": {"type": "rect", "fill": "#d9d9d9", "stroke": "#7f7f7f", "strokeWidth": 1}, "encoding": {"x": {"datum": -1250, "axis": null}, "x2": {"datum": 26250}, "y": {"datum": 0.000342, "axis": null}, "y2": {"datum": 0.00037682}}},
        {"data": {"name": "panels"}, "transform": [{"filter": "datum.panel === 'Coast'"}], "mark": {"type": "rule", "color": "#4b3f75", "strokeWidth": 1.2}, "encoding": {"x": {"datum": -1250, "axis": null}, "x2": {"datum": 26250}, "y": {"datum": 0.000342, "axis": null}}},
        {"data": {"name": "panels"}, "transform": [{"filter": "datum.panel === 'Coast'"}], "mark": {"type": "text", "font": "Liberation Sans", "fontSize": 26, "color": "#1a1a1a", "align": "center", "baseline": "middle"}, "encoding": {"x": {"datum": 12500, "axis": null}, "y": {"datum": 0.0003591, "axis": null}, "text": {"field": "panel", "type": "nominal"}}},
        {
          "data": {"name": "curves"}, "transform": [{"filter": "datum.panel === 'Coast'"}],
          "encoding": {
            "x": {"field": "x", "type": "quantitative", "scale": {"domain": [-1250, 26250], "nice": false, "zero": false}, "axis": null},
            "y": {"field": "density", "type": "quantitative", "scale": {"domain": [-0.0000163, 0.00037682], "nice": false, "zero": false}, "axis": null}
          },
          "layer": [
            {"transform": [{"filter": "datum.group === 'ACT Cohort'"}], "mark": {"type": "area", "interpolate": "monotone", "fillOpacity": 0.3}, "encoding": {"y2": {"datum": 0}, "color": {"field": "group", "type": "nominal", "scale": {"domain": ["ACT Cohort", "Mobile Monitoring Stops"], "range": ["#F8766D", "#00BFC4"]}, "legend": {"title": "Location", "encode": {"symbols": {"update": {"fillOpacity": {"value": 0.28}, "strokeOpacity": {"value": 1}}}}}}}},
            {"transform": [{"filter": "datum.group === 'ACT Cohort'"}], "mark": {"type": "line", "interpolate": "monotone", "color": "black", "strokeWidth": 1.7}, "encoding": {}},
            {"transform": [{"filter": "datum.group === 'Mobile Monitoring Stops'"}], "mark": {"type": "area", "interpolate": "monotone", "fillOpacity": 0.25}, "encoding": {"y2": {"datum": 0}, "color": {"field": "group", "type": "nominal", "scale": {"domain": ["ACT Cohort", "Mobile Monitoring Stops"], "range": ["#F8766D", "#00BFC4"]}, "legend": {"title": "Location", "encode": {"symbols": {"update": {"fillOpacity": {"value": 0.28}, "strokeOpacity": {"value": 1}}}}}}}},
            {"transform": [{"filter": "datum.group === 'Mobile Monitoring Stops'"}], "mark": {"type": "line", "interpolate": "monotone", "color": "black", "strokeWidth": 1.7}, "encoding": {}}
          ]
        }
      ]
    },
    {
      "width": 378, "height": 429, "view": {"fill": "white", "stroke": "#9d90c2"},
      "resolve": {"axis": {"x": "independent", "y": "independent"}},
      "layer": [
        {"data": {"name": "panels"}, "transform": [{"filter": "datum.panel === 'Large Airport (Sea-Tac Int.)'"}], "mark": {"type": "rect", "fill": "#d9d9d9", "stroke": "#7f7f7f", "strokeWidth": 1}, "encoding": {"x": {"datum": -1250, "axis": null}, "x2": {"datum": 26250}, "y": {"datum": 0.000342, "axis": null}, "y2": {"datum": 0.00037682}}},
        {"data": {"name": "panels"}, "transform": [{"filter": "datum.panel === 'Large Airport (Sea-Tac Int.)'"}], "mark": {"type": "rule", "color": "#4b3f75", "strokeWidth": 1.2}, "encoding": {"x": {"datum": -1250, "axis": null}, "x2": {"datum": 26250}, "y": {"datum": 0.000342, "axis": null}}},
        {"data": {"name": "panels"}, "transform": [{"filter": "datum.panel === 'Large Airport (Sea-Tac Int.)'"}], "mark": {"type": "text", "font": "Liberation Sans", "fontSize": 26, "color": "#1a1a1a", "align": "center", "baseline": "middle"}, "encoding": {"x": {"datum": 12500, "axis": null}, "y": {"datum": 0.0003591, "axis": null}, "text": {"field": "panel", "type": "nominal"}}},
        {
          "data": {"name": "curves"}, "transform": [{"filter": "datum.panel === 'Large Airport (Sea-Tac Int.)'"}],
          "encoding": {
            "x": {"field": "x", "type": "quantitative", "scale": {"domain": [-1250, 26250], "nice": false, "zero": false}, "axis": {"orient": "bottom", "title": null, "values": [0, 5000, 10000, 15000, 20000, 25000], "format": "d"}},
            "y": {"field": "density", "type": "quantitative", "scale": {"domain": [-0.0000163, 0.00037682], "nice": false, "zero": false}, "axis": {"orient": "left", "title": "density", "titleY": 32, "titlePadding": 10, "labelPadding": 3, "values": [0, 0.0001, 0.0002, 0.0003], "labelExpr": "replace(replace(format(datum.value, '.0e'), 'e-', 'e-0'), 'e+', 'e+0')"}}
          },
          "layer": [
            {"transform": [{"filter": "datum.group === 'ACT Cohort'"}], "mark": {"type": "area", "interpolate": "monotone", "fillOpacity": 0.3}, "encoding": {"y2": {"datum": 0}, "color": {"field": "group", "type": "nominal", "scale": {"domain": ["ACT Cohort", "Mobile Monitoring Stops"], "range": ["#F8766D", "#00BFC4"]}, "legend": {"title": "Location", "encode": {"symbols": {"update": {"fillOpacity": {"value": 0.28}, "strokeOpacity": {"value": 1}}}}}}}},
            {"transform": [{"filter": "datum.group === 'ACT Cohort'"}], "mark": {"type": "line", "interpolate": "monotone", "color": "black", "strokeWidth": 1.7}, "encoding": {}},
            {"transform": [{"filter": "datum.group === 'Mobile Monitoring Stops'"}], "mark": {"type": "area", "interpolate": "monotone", "fillOpacity": 0.25}, "encoding": {"y2": {"datum": 0}, "color": {"field": "group", "type": "nominal", "scale": {"domain": ["ACT Cohort", "Mobile Monitoring Stops"], "range": ["#F8766D", "#00BFC4"]}, "legend": {"title": "Location", "encode": {"symbols": {"update": {"fillOpacity": {"value": 0.28}, "strokeOpacity": {"value": 1}}}}}}}},
            {"transform": [{"filter": "datum.group === 'Mobile Monitoring Stops'"}], "mark": {"type": "line", "interpolate": "monotone", "color": "black", "strokeWidth": 1.7}, "encoding": {}}
          ]
        }
      ]
    },
    {
      "width": 378, "height": 429, "view": {"fill": "white", "stroke": "#9d90c2"},
      "resolve": {"axis": {"x": "independent", "y": "independent"}},
      "layer": [
        {"data": {"name": "panels"}, "transform": [{"filter": "datum.panel === 'Large Port (Port of Seattle)'"}], "mark": {"type": "rect", "fill": "#d9d9d9", "stroke": "#7f7f7f", "strokeWidth": 1}, "encoding": {"x": {"datum": -1250, "axis": null}, "x2": {"datum": 26250}, "y": {"datum": 0.000342, "axis": null}, "y2": {"datum": 0.00037682}}},
        {"data": {"name": "panels"}, "transform": [{"filter": "datum.panel === 'Large Port (Port of Seattle)'"}], "mark": {"type": "rule", "color": "#4b3f75", "strokeWidth": 1.2}, "encoding": {"x": {"datum": -1250, "axis": null}, "x2": {"datum": 26250}, "y": {"datum": 0.000342, "axis": null}}},
        {"data": {"name": "panels"}, "transform": [{"filter": "datum.panel === 'Large Port (Port of Seattle)'"}], "mark": {"type": "text", "font": "Liberation Sans", "fontSize": 26, "color": "#1a1a1a", "align": "center", "baseline": "middle"}, "encoding": {"x": {"datum": 12500, "axis": null}, "y": {"datum": 0.0003591, "axis": null}, "text": {"field": "panel", "type": "nominal"}}},
        {
          "data": {"name": "curves"}, "transform": [{"filter": "datum.panel === 'Large Port (Port of Seattle)'"}],
          "encoding": {
            "x": {"field": "x", "type": "quantitative", "scale": {"domain": [-1250, 26250], "nice": false, "zero": false}, "axis": {"orient": "bottom", "title": "Proximity (Meters)", "titlePadding": 5, "values": [0, 5000, 10000, 15000, 20000, 25000], "format": "d"}},
            "y": {"field": "density", "type": "quantitative", "scale": {"domain": [-0.0000163, 0.00037682], "nice": false, "zero": false}, "axis": null}
          },
          "layer": [
            {"transform": [{"filter": "datum.group === 'ACT Cohort'"}], "mark": {"type": "area", "interpolate": "monotone", "fillOpacity": 0.3}, "encoding": {"y2": {"datum": 0}, "color": {"field": "group", "type": "nominal", "scale": {"domain": ["ACT Cohort", "Mobile Monitoring Stops"], "range": ["#F8766D", "#00BFC4"]}, "legend": {"title": "Location", "encode": {"symbols": {"update": {"fillOpacity": {"value": 0.28}, "strokeOpacity": {"value": 1}}}}}}}},
            {"transform": [{"filter": "datum.group === 'ACT Cohort'"}], "mark": {"type": "line", "interpolate": "monotone", "color": "black", "strokeWidth": 1.7}, "encoding": {}},
            {"transform": [{"filter": "datum.group === 'Mobile Monitoring Stops'"}], "mark": {"type": "area", "interpolate": "monotone", "fillOpacity": 0.25}, "encoding": {"y2": {"datum": 0}, "color": {"field": "group", "type": "nominal", "scale": {"domain": ["ACT Cohort", "Mobile Monitoring Stops"], "range": ["#F8766D", "#00BFC4"]}, "legend": {"title": "Location", "encode": {"symbols": {"update": {"fillOpacity": {"value": 0.28}, "strokeOpacity": {"value": 1}}}}}}}},
            {"transform": [{"filter": "datum.group === 'Mobile Monitoring Stops'"}], "mark": {"type": "line", "interpolate": "monotone", "color": "black", "strokeWidth": 1.7}, "encoding": {}}
          ]
        }
      ]
    },
    {
      "width": 378, "height": 429, "view": {"fill": "white", "stroke": "#9d90c2"},
      "resolve": {"axis": {"x": "independent", "y": "independent"}},
      "layer": [
        {"data": {"name": "panels"}, "transform": [{"filter": "datum.panel === 'Railyard'"}], "mark": {"type": "rect", "fill": "#d9d9d9", "stroke": "#7f7f7f", "strokeWidth": 1}, "encoding": {"x": {"datum": -1250, "axis": null}, "x2": {"datum": 26250}, "y": {"datum": 0.000342, "axis": null}, "y2": {"datum": 0.00037682}}},
        {"data": {"name": "panels"}, "transform": [{"filter": "datum.panel === 'Railyard'"}], "mark": {"type": "rule", "color": "#4b3f75", "strokeWidth": 1.2}, "encoding": {"x": {"datum": -1250, "axis": null}, "x2": {"datum": 26250}, "y": {"datum": 0.000342, "axis": null}}},
        {"data": {"name": "panels"}, "transform": [{"filter": "datum.panel === 'Railyard'"}], "mark": {"type": "text", "font": "Liberation Sans", "fontSize": 26, "color": "#1a1a1a", "align": "center", "baseline": "middle"}, "encoding": {"x": {"datum": 12500, "axis": null}, "y": {"datum": 0.0003591, "axis": null}, "text": {"field": "panel", "type": "nominal"}}},
        {
          "data": {"name": "curves"}, "transform": [{"filter": "datum.panel === 'Railyard'"}],
          "encoding": {
            "x": {"field": "x", "type": "quantitative", "scale": {"domain": [-1250, 26250], "nice": false, "zero": false}, "axis": {"orient": "bottom", "title": null, "values": [0, 5000, 10000, 15000, 20000, 25000], "format": "d"}},
            "y": {"field": "density", "type": "quantitative", "scale": {"domain": [-0.0000163, 0.00037682], "nice": false, "zero": false}, "axis": null}
          },
          "layer": [
            {"transform": [{"filter": "datum.group === 'ACT Cohort'"}], "mark": {"type": "area", "interpolate": "monotone", "fillOpacity": 0.3}, "encoding": {"y2": {"datum": 0}, "color": {"field": "group", "type": "nominal", "scale": {"domain": ["ACT Cohort", "Mobile Monitoring Stops"], "range": ["#F8766D", "#00BFC4"]}, "legend": {"title": "Location", "encode": {"symbols": {"update": {"fillOpacity": {"value": 0.28}, "strokeOpacity": {"value": 1}}}}}}}},
            {"transform": [{"filter": "datum.group === 'ACT Cohort'"}], "mark": {"type": "line", "interpolate": "monotone", "color": "black", "strokeWidth": 1.7}, "encoding": {}},
            {"transform": [{"filter": "datum.group === 'Mobile Monitoring Stops'"}], "mark": {"type": "area", "interpolate": "monotone", "fillOpacity": 0.25}, "encoding": {"y2": {"datum": 0}, "color": {"field": "group", "type": "nominal", "scale": {"domain": ["ACT Cohort", "Mobile Monitoring Stops"], "range": ["#F8766D", "#00BFC4"]}, "legend": {"title": "Location", "encode": {"symbols": {"update": {"fillOpacity": {"value": 0.28}, "strokeOpacity": {"value": 1}}}}}}}},
            {"transform": [{"filter": "datum.group === 'Mobile Monitoring Stops'"}], "mark": {"type": "line", "interpolate": "monotone", "color": "black", "strokeWidth": 1.7}, "encoding": {}}
          ]
        }
      ]
    }
  ],
  "config": {
    "font": "Liberation Sans",
    "axis": {
      "grid": false, "domain": false,
      "labelFont": "Liberation Sans", "labelFontSize": 14.5, "labelColor": "#4d4d4d", "labelPadding": 1,
      "tickColor": "#333333", "tickSize": 5, "tickWidth": 1,
      "titleFont": "Liberation Sans", "titleFontSize": 19, "titleFontWeight": "normal", "titleColor": "black"
    },
    "legend": {
      "orient": "none", "legendX": 370, "legendY": 940, "direction": "horizontal", "titleOrient": "left",
      "symbolType": "square", "symbolSize": 784, "symbolStrokeColor": "black", "symbolStrokeWidth": 1.5,
      "labelFont": "Liberation Sans", "labelFontSize": 15, "labelColor": "black", "labelOffset": 10, "labelLimit": 400,
      "titleFont": "Liberation Sans", "titleFontSize": 18.5, "titleFontWeight": "normal", "titleColor": "black", "titlePadding": 13,
      "columnPadding": 11
    }
  }
}
